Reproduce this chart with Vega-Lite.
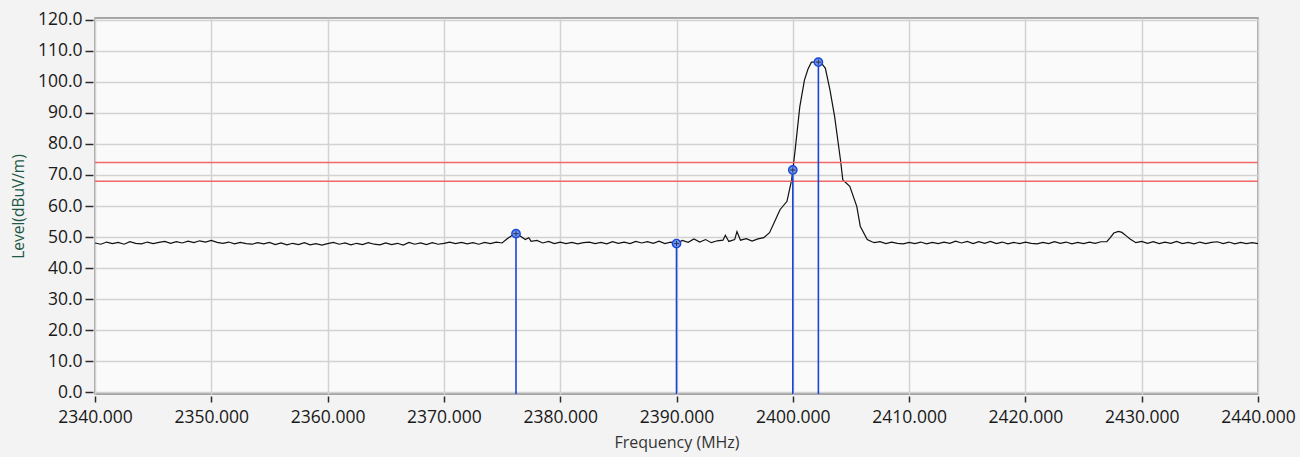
{
  "$schema": "https://vega.github.io/schema/vega-lite/v6.json",
  "width": 1163,
  "height": 376,
  "autosize": {"type": "none"},
  "padding": {"left": 95, "top": 18, "right": 42, "bottom": 63},
  "background": "#f3f3f3",
  "config": {
    "view": {"stroke": "#8c8c8c", "strokeWidth": 1.5, "fill": "#fafafa"},
    "font": "Open Sans",
    "axis": {
      "labelFont": "Open Sans", "labelFontSize": 17.5, "labelColor": "#1a1a1a",
      "titleFont": "Open Sans", "titleFontWeight": "normal",
      "gridColor": "#d2d2d2", "gridWidth": 1.5,
      "tickColor": "#2a2a2a", "tickWidth": 1.5,
      "domain": false, "labelOverlap": false, "labelBound": false
    }
  },
  "datasets": {
    "trace": [
      {"f":2340,"v":48.1},{"f":2340.5,"v":47.7},{"f":2341,"v":48.4},{"f":2341.5,"v":47.9},{"f":2342,"v":48.3},{"f":2342.5,"v":47.7},{"f":2343,"v":48.5},{"f":2343.5,"v":48.0},{"f":2344,"v":47.8},{"f":2344.5,"v":48.4},
      {"f":2345,"v":47.9},{"f":2345.5,"v":48.3},{"f":2346,"v":48.6},{"f":2346.5,"v":48.0},{"f":2347,"v":48.5},{"f":2347.5,"v":48.1},{"f":2348,"v":48.7},{"f":2348.5,"v":48.2},{"f":2349,"v":48.8},{"f":2349.5,"v":48.4},
      {"f":2350,"v":48.9},{"f":2350.5,"v":48.3},{"f":2351,"v":48.0},{"f":2351.5,"v":48.4},{"f":2352,"v":47.8},{"f":2352.5,"v":48.3},{"f":2353,"v":47.9},{"f":2353.5,"v":47.7},{"f":2354,"v":48.2},{"f":2354.5,"v":47.8},
      {"f":2355,"v":48.3},{"f":2355.5,"v":47.6},{"f":2356,"v":48.1},{"f":2356.5,"v":47.5},{"f":2357,"v":48.0},{"f":2357.5,"v":47.6},{"f":2358,"v":48.2},{"f":2358.5,"v":47.5},{"f":2359,"v":47.9},{"f":2359.5,"v":47.4},
      {"f":2360,"v":47.9},{"f":2360.5,"v":48.3},{"f":2361,"v":47.7},{"f":2361.5,"v":48.1},{"f":2362,"v":47.5},{"f":2362.5,"v":48.0},{"f":2363,"v":47.6},{"f":2363.5,"v":48.2},{"f":2364,"v":47.7},{"f":2364.5,"v":47.5},
      {"f":2365,"v":48.1},{"f":2365.5,"v":47.6},{"f":2366,"v":48.0},{"f":2366.5,"v":47.4},{"f":2367,"v":48.3},{"f":2367.5,"v":47.7},{"f":2368,"v":48.1},{"f":2368.5,"v":47.6},{"f":2369,"v":48.2},{"f":2369.5,"v":47.7},
      {"f":2370,"v":48.0},{"f":2370.5,"v":48.4},{"f":2371,"v":47.9},{"f":2371.5,"v":48.3},{"f":2372,"v":47.8},{"f":2372.5,"v":48.2},{"f":2373,"v":47.7},{"f":2373.5,"v":48.3},{"f":2374,"v":47.9},{"f":2374.5,"v":48.4},
      {"f":2375,"v":48.1},{"f":2375.5,"v":49.6},{"f":2376,"v":50.9},{"f":2376.2,"v":51.1},{"f":2376.5,"v":50.5},{"f":2377,"v":49.2},{"f":2377.3,"v":49.8},{"f":2377.5,"v":48.6},{"f":2378,"v":48.9},{"f":2378.5,"v":48.1},
      {"f":2379,"v":48.6},{"f":2379.5,"v":47.9},{"f":2380,"v":48.4},{"f":2380.5,"v":47.9},{"f":2381,"v":48.3},{"f":2381.5,"v":47.8},{"f":2382,"v":48.2},{"f":2382.5,"v":48.4},{"f":2383,"v":47.9},{"f":2383.5,"v":48.3},
      {"f":2384,"v":47.8},{"f":2384.5,"v":48.5},{"f":2385,"v":48.0},{"f":2385.5,"v":48.4},{"f":2386,"v":47.9},{"f":2386.5,"v":48.6},{"f":2387,"v":48.1},{"f":2387.5,"v":48.5},{"f":2388,"v":48.0},{"f":2388.5,"v":48.7},
      {"f":2389,"v":47.9},{"f":2389.5,"v":48.4},{"f":2390,"v":47.9},{"f":2390.5,"v":48.9},{"f":2391,"v":48.3},{"f":2391.5,"v":49.4},{"f":2392,"v":48.4},{"f":2392.5,"v":49.2},{"f":2393,"v":48.2},{"f":2393.5,"v":48.8},
      {"f":2394,"v":49.0},{"f":2394.2,"v":50.6},{"f":2394.5,"v":48.6},{"f":2395,"v":49.2},{"f":2395.2,"v":51.8},{"f":2395.5,"v":49.0},{"f":2396,"v":49.5},{"f":2396.5,"v":48.7},{"f":2397,"v":49.4},{"f":2397.5,"v":49.8},
      {"f":2398,"v":51.4},{"f":2398.5,"v":55.5},{"f":2398.9,"v":58.8},{"f":2399.5,"v":61.5},{"f":2399.9,"v":68.4},{"f":2400,"v":71.6},{"f":2400.2,"v":78.0},{"f":2400.6,"v":91.9},{"f":2401,"v":100.5},{"f":2401.3,"v":104.0},
      {"f":2401.6,"v":106.3},{"f":2402.2,"v":106.3},{"f":2402.5,"v":105.8},{"f":2402.8,"v":104.3},{"f":2403.2,"v":97.3},{"f":2403.6,"v":88.7},{"f":2404.1,"v":74.8},{"f":2404.3,"v":68.4},{"f":2404.9,"v":66.3},{"f":2405.5,"v":59.9},
      {"f":2405.8,"v":53.5},{"f":2406.4,"v":49.2},{"f":2406.8,"v":48.5},{"f":2407,"v":48.2},{"f":2407.5,"v":48.5},{"f":2408,"v":47.9},{"f":2408.5,"v":48.4},{"f":2409,"v":48.0},{"f":2409.5,"v":47.8},{"f":2410,"v":48.3},
      {"f":2410.5,"v":47.9},{"f":2411,"v":48.4},{"f":2411.5,"v":47.8},{"f":2412,"v":48.3},{"f":2412.5,"v":47.9},{"f":2413,"v":48.4},{"f":2413.5,"v":48.0},{"f":2414,"v":48.7},{"f":2414.5,"v":48.1},{"f":2415,"v":48.6},
      {"f":2415.5,"v":47.9},{"f":2416,"v":48.5},{"f":2416.5,"v":48.0},{"f":2417,"v":48.6},{"f":2417.5,"v":47.9},{"f":2418,"v":48.4},{"f":2418.5,"v":47.8},{"f":2419,"v":48.3},{"f":2419.5,"v":47.9},{"f":2420,"v":48.4},
      {"f":2420.5,"v":48.0},{"f":2421,"v":47.8},{"f":2421.5,"v":48.3},{"f":2422,"v":47.9},{"f":2422.5,"v":48.5},{"f":2423,"v":48.0},{"f":2423.5,"v":48.4},{"f":2424,"v":47.8},{"f":2424.5,"v":48.3},{"f":2425,"v":47.9},
      {"f":2425.5,"v":48.4},{"f":2426,"v":48.0},{"f":2426.5,"v":48.5},{"f":2427,"v":48.5},{"f":2427.3,"v":49.8},{"f":2427.6,"v":51.3},{"f":2428,"v":51.8},{"f":2428.3,"v":51.5},{"f":2428.7,"v":50.3},{"f":2429,"v":49.4},
      {"f":2429.5,"v":48.2},{"f":2430,"v":48.6},{"f":2430.5,"v":48.0},{"f":2431,"v":48.5},{"f":2431.5,"v":47.9},{"f":2432,"v":48.4},{"f":2432.5,"v":48.0},{"f":2433,"v":48.6},{"f":2433.5,"v":47.9},{"f":2434,"v":48.3},
      {"f":2434.5,"v":47.8},{"f":2435,"v":48.4},{"f":2435.5,"v":47.9},{"f":2436,"v":48.3},{"f":2436.5,"v":48.5},{"f":2437,"v":47.9},{"f":2437.5,"v":48.4},{"f":2438,"v":47.8},{"f":2438.5,"v":48.3},{"f":2439,"v":47.9},
      {"f":2439.5,"v":48.2},{"f":2440,"v":47.9}
    ],
    "limits": [{"lim": 74}, {"lim": 68}],
    "markers": [
      {"f": 2376.2, "v": 51.1},
      {"f": 2390, "v": 47.9},
      {"f": 2400, "v": 71.6},
      {"f": 2402.2, "v": 106.3}
    ]
  },
  "layer": [
    {
      "data": {"name": "trace"},
      "mark": {"type": "line", "color": "#111111", "strokeWidth": 1.2, "clip": true},
      "encoding": {
        "x": {"field": "f", "type": "quantitative",
              "scale": {"domain": [2340, 2440], "nice": false, "zero": false},
              "axis": {"values": [2340,2350,2360,2370,2380,2390,2400,2410,2420,2430,2440], "format": ".3f",
                       "title": "Frequency (MHz)", "titleFontSize": 16, "titleColor": "#333333", "titlePadding": 9,
                       "offset": 2, "tickSize": 6, "labelPadding": 6, "labelFlush": false, "labelOverlap": false}},
        "y": {"field": "v", "type": "quantitative",
              "scale": {"domain": [-0.5, 120.5], "nice": false, "zero": false},
              "axis": {"values": [0,10,20,30,40,50,60,70,80,90,100,110,120], "format": ".1f",
                       "title": "Level(dBuV/m)", "titleFontSize": 15.5, "titleColor": "#1f5945", "titlePadding": 11,
                       "offset": 2, "tickSize": 8, "labelPadding": 3, "labelOverlap": false, "tickCount": 13}}
      }
    },
    {
      "data": {"name": "limits"},
      "mark": {"type": "rule", "color": "#f06868", "strokeWidth": 1.5},
      "encoding": {"y": {"field": "lim", "type": "quantitative"}}
    },
    {
      "data": {"name": "markers"},
      "mark": {"type": "rule", "color": "#1846d8", "strokeWidth": 1.6},
      "encoding": {
        "x": {"field": "f", "type": "quantitative"},
        "y": {"field": "v", "type": "quantitative"},
        "y2": {"datum": -0.5}
      }
    },
    {
      "data": {"name": "markers"},
      "mark": {"type": "point", "shape": "circle", "size": 70, "filled": true, "fill": "#6f93ee", "stroke": "#1846d8", "strokeWidth": 1.4, "opacity": 1},
      "encoding": {
        "x": {"field": "f", "type": "quantitative"},
        "y": {"field": "v", "type": "quantitative"}
      }
    },
    {
      "data": {"name": "markers"},
      "mark": {"type": "point", "shape": "M-1,0L1,0M0,-1L0,1", "size": 28, "filled": false, "stroke": "#111111", "strokeWidth": 1},
      "encoding": {
        "x": {"field": "f", "type": "quantitative"},
        "y": {"field": "v", "type": "quantitative"}
      }
    },
    {
      "mark": {"type": "rule", "color": "#333333", "strokeWidth": 1.5},
      "encoding": {"y": {"datum": 120.5}}
    },
    {
      "mark": {"type": "rule", "color": "#333333", "strokeWidth": 1.5},
      "encoding": {"x": {"datum": 2340}}
    }
  ]
}
